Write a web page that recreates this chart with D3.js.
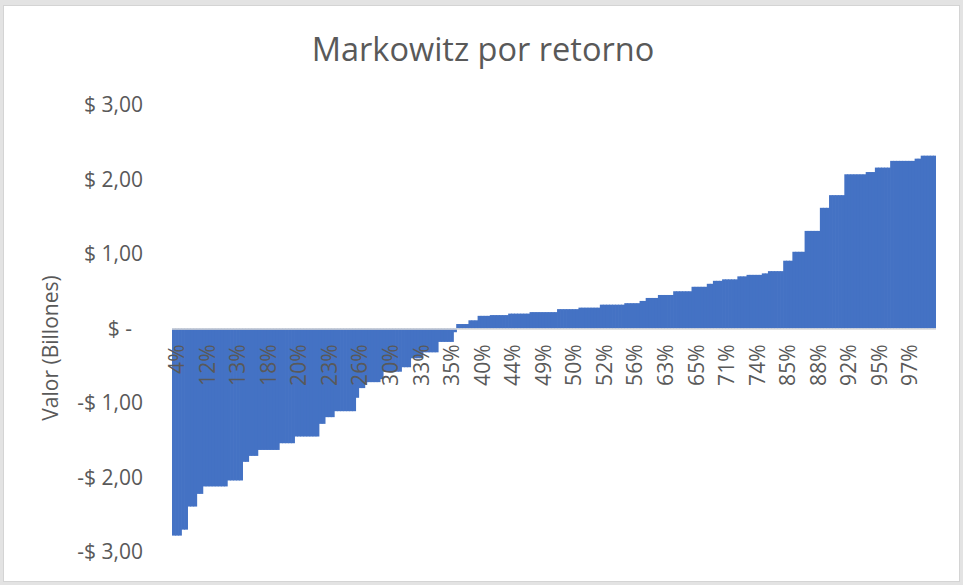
<!DOCTYPE html>
<html>
<head>
<meta charset="utf-8">
<script src="https://cdn.jsdelivr.net/npm/d3@7"></script>
<style>
  html, body { margin: 0; padding: 0; background: #e3e3e3; }
  svg { display: block; }
</style>
</head>
<body>
<svg id="chart" width="963" height="585"></svg>
<script>
// ---- data ----
const title = "Markowitz por retorno";
const yAxisTitle = "Valor (Billones)";
const values = [
  -2.78, -2.78, -2.78, -2.70, -2.70, -2.39, -2.39, -2.39, -2.22, -2.22,
  -2.12, -2.12, -2.12, -2.12, -2.12, -2.12, -2.12, -2.12, -2.04, -2.04,
  -2.04, -2.04, -2.04, -1.79, -1.79, -1.71, -1.71, -1.71, -1.63, -1.63,
  -1.63, -1.63, -1.63, -1.63, -1.63, -1.54, -1.54, -1.54, -1.54, -1.54,
  -1.45, -1.45, -1.45, -1.45, -1.45, -1.45, -1.45, -1.45, -1.28, -1.28,
  -1.19, -1.19, -1.19, -1.11, -1.11, -1.11, -1.11, -1.11, -1.11, -1.11,
  -0.93, -0.80, -0.80, -0.72, -0.72, -0.72, -0.72, -0.72, -0.68, -0.58,
  -0.58, -0.58, -0.58, -0.58, -0.58, -0.52, -0.52, -0.52, -0.40, -0.40,
  -0.40, -0.40, -0.32, -0.32, -0.32, -0.32, -0.32, -0.18, -0.18, -0.18,
  -0.18, -0.18, -0.05, 0.06, 0.06, 0.06, 0.06, 0.11, 0.11, 0.11,
  0.17, 0.17, 0.17, 0.17, 0.18, 0.18, 0.18, 0.18, 0.18, 0.18,
  0.20, 0.20, 0.20, 0.20, 0.20, 0.20, 0.20, 0.22, 0.22, 0.22,
  0.22, 0.22, 0.22, 0.22, 0.22, 0.22, 0.26, 0.26, 0.26, 0.26,
  0.26, 0.26, 0.26, 0.28, 0.28, 0.28, 0.28, 0.28, 0.28, 0.28,
  0.32, 0.32, 0.32, 0.32, 0.32, 0.32, 0.32, 0.32, 0.34, 0.34,
  0.34, 0.34, 0.34, 0.37, 0.37, 0.41, 0.41, 0.41, 0.41, 0.45,
  0.45, 0.45, 0.45, 0.45, 0.50, 0.50, 0.50, 0.50, 0.50, 0.50,
  0.56, 0.56, 0.56, 0.56, 0.56, 0.60, 0.60, 0.64, 0.64, 0.64,
  0.66, 0.66, 0.66, 0.66, 0.66, 0.70, 0.70, 0.70, 0.72, 0.72,
  0.72, 0.72, 0.72, 0.74, 0.74, 0.77, 0.77, 0.77, 0.77, 0.77,
  0.91, 0.91, 0.91, 1.03, 1.03, 1.03, 1.03, 1.31, 1.31, 1.31,
  1.31, 1.31, 1.62, 1.62, 1.62, 1.79, 1.79, 1.79, 1.79, 1.79,
  2.07, 2.07, 2.07, 2.07, 2.07, 2.07, 2.07, 2.10, 2.10, 2.10,
  2.16, 2.16, 2.16, 2.16, 2.16, 2.25, 2.25, 2.25, 2.25, 2.25,
  2.25, 2.25, 2.25, 2.28, 2.28, 2.32, 2.32, 2.32, 2.32, 2.32
];
// category labels shown every 10th category
const xTickLabels = ["4%", "12%", "13%", "18%", "20%", "23%", "26%", "30%", "33%", "35%",
  "40%", "44%", "49%", "50%", "52%", "56%", "63%", "65%", "71%", "74%",
  "85%", "88%", "92%", "95%", "97%"];
const labelInterval = 10;
const yTickValues = [-3, -2, -1, 0, 1, 2, 3];

// ---- layout ----
const plot = { left: 172, right: 936, top: 105, bottom: 552 };
const FONT = "'Open Sans', 'Noto Sans', sans-serif";
const TEXT = "#595959";
const BAR = "#4472C4";

const svg = d3.select("#chart");

// chart frame
svg.append("rect")
  .attr("x", 3.5).attr("y", 5.5).attr("width", 956).attr("height", 576)
  .attr("fill", "#ffffff").attr("stroke", "#d4d4d4").attr("stroke-width", 1);

const categories = d3.range(values.length);
const x = d3.scaleBand().domain(categories).range([plot.left, plot.right]).padding(0);
const y = d3.scaleLinear().domain([-3, 3]).range([plot.bottom, plot.top]);

// bars (slight overlap to avoid anti-aliasing seams)
const last = values.length - 1;
svg.append("g").selectAll("rect").data(values).join("rect")
  .attr("x", (d, i) => x(i))
  .attr("width", (d, i) => x.bandwidth() + (i < last ? 0.7 : 0))
  .attr("y", d => y(Math.max(0, d)))
  .attr("height", d => Math.abs(y(d) - y(0)))
  .attr("fill", BAR);

// y axis (labels only)
const fmt = v => v === 0 ? "$ -" : (v < 0 ? "-" : "") + "$ " + Math.abs(v).toFixed(2).replace(".", ",");
const yAxis = d3.axisLeft(y).tickValues(yTickValues).tickFormat(fmt).tickSize(0).tickPadding(0);
const gy = svg.append("g").attr("transform", `translate(143,0)`).call(yAxis);
gy.select(".domain").remove();
gy.selectAll("text")
  .attr("fill", TEXT)
  .style("font-family", FONT)
  .style("font-size", "21px")
  .attr("dx", d => d === 0 ? -11 : 0);

// zero axis line
svg.append("line")
  .attr("x1", plot.left).attr("x2", plot.right)
  .attr("y1", y(0) + 0.5).attr("y2", y(0) + 0.5)
  .attr("stroke", "#d9d9d9").attr("stroke-width", 1.5);

// x axis labels (rotated)
const tickIdx = xTickLabels.map((_, k) => k * labelInterval);
const xAxis = d3.axisBottom(x).tickValues(tickIdx)
  .tickFormat(i => xTickLabels[i / labelInterval]).tickSize(0);
const gx = svg.append("g").attr("transform", `translate(0,${y(0)})`).call(xAxis);
gx.select(".domain").remove();
gx.selectAll("text")
  .attr("transform", "rotate(-90)")
  .attr("x", -16).attr("y", 0).attr("dy", "0.5em")
  .style("text-anchor", "end")
  .attr("fill", TEXT)
  .style("font-family", FONT)
  .style("font-size", "21px");

// title
svg.append("text")
  .attr("x", 483).attr("y", 61)
  .attr("text-anchor", "middle")
  .attr("fill", TEXT)
  .style("font-family", FONT)
  .style("font-size", "32.5px")
  .text(title);

// y axis title
svg.append("text")
  .attr("transform", "translate(51,348) rotate(-90)")
  .attr("text-anchor", "middle")
  .attr("dy", "0.35em")
  .attr("fill", TEXT)
  .style("font-family", FONT)
  .style("font-size", "21px")
  .text(yAxisTitle);
</script>
</body>
</html>
